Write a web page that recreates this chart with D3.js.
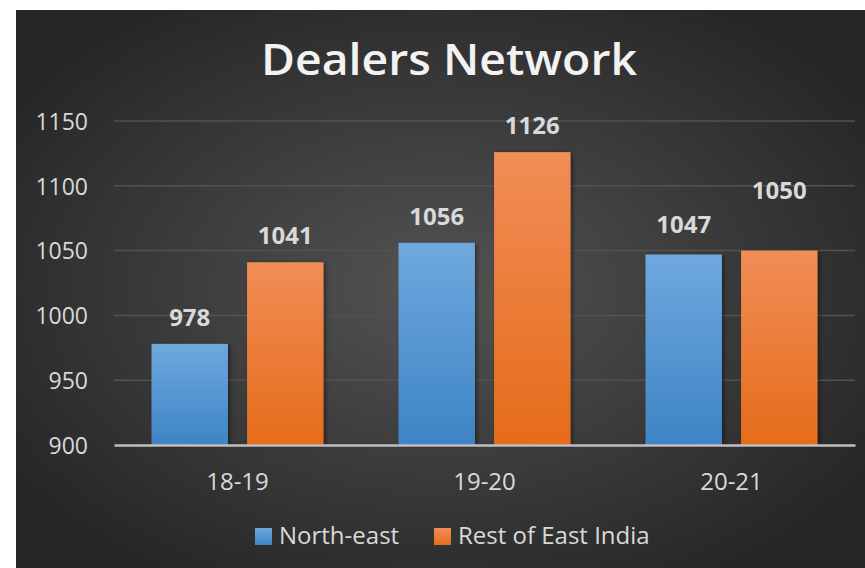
<!DOCTYPE html>
<html>
<head>
<meta charset="utf-8">
<script src="https://cdn.jsdelivr.net/npm/d3@7"></script>
<style>
  html, body { margin: 0; padding: 0; background: #ffffff; }
  svg { display: block; }
</style>
</head>
<body>
<div id="chart"></div>
<script>
// chart values
const categories = ['18-19', '19-20', '20-21'];
const seriesNames = ['North-east', 'Rest of East India'];
const northEast = [978, 1056, 1047];
const restOfEast = [1041, 1126, 1050];
const yTicks = [900, 950, 1000, 1050, 1100, 1150];

const W = 865, H = 568;
const frame = { x: 16, y: 10, w: 849, h: 558 };
const plot = { left: 114, right: 855, top: 121, bottom: 445 };

// the 20-21 "Rest of East India" label sits higher in the original
const labelLift = { '20-21|Rest of East India': 34, '20-21|North-east': 3 };

const svg = d3.select('#chart').append('svg')
  .attr('width', W)
  .attr('height', H);

const defs = svg.append('defs');

const bg = defs.append('radialGradient')
  .attr('id', 'bg')
  .attr('cx', '50%').attr('cy', '50%').attr('r', '62%');
bg.append('stop').attr('offset', '0%').attr('stop-color', '#535353');
bg.append('stop').attr('offset', '100%').attr('stop-color', '#252525');

function barGradient(id, top, bottom) {
  const g = defs.append('linearGradient')
    .attr('id', id)
    .attr('x1', 0).attr('y1', 0).attr('x2', 0).attr('y2', 1);
  g.append('stop').attr('offset', '0%').attr('stop-color', top);
  g.append('stop').attr('offset', '100%').attr('stop-color', bottom);
}
barGradient('blue', '#6fa8de', '#3e84c5');
barGradient('orange', '#f18d56', '#e56c1a');

const shadow = defs.append('filter')
  .attr('id', 'shadow')
  .attr('x', '-20%').attr('y', '-10%')
  .attr('width', '140%').attr('height', '120%');
shadow.append('feDropShadow')
  .attr('dx', 2).attr('dy', 1)
  .attr('stdDeviation', 2)
  .attr('flood-color', '#000')
  .attr('flood-opacity', 0.45);

svg.append('rect')
  .attr('x', frame.x).attr('y', frame.y)
  .attr('width', frame.w).attr('height', frame.h)
  .attr('fill', 'url(#bg)');

const font = '"Open Sans", "DejaVu Sans", sans-serif';

// title
svg.append('text')
  .attr('x', 449)
  .attr('y', 75)
  .attr('text-anchor', 'middle')
  .attr('font-family', font)
  .attr('font-weight', 600)
  .attr('font-size', 43)
  .attr('fill', '#f2f2f2')
  .attr('textLength', 376)
  .attr('lengthAdjust', 'spacingAndGlyphs')
  .text('Dealers Network');

const y = d3.scaleLinear()
  .domain([900, 1150])
  .range([plot.bottom, plot.top]);

const x0 = d3.scaleBand()
  .domain(categories)
  .range([plot.left, plot.right])
  .paddingInner(0)
  .paddingOuter(0);

const x1 = d3.scaleBand()
  .domain(seriesNames)
  .range([37.5, x0.bandwidth() - 37.5])
  .paddingInner(0.2);

// gridlines
svg.append('g')
  .selectAll('line')
  .data(yTicks.filter(d => d !== 900))
  .join('line')
  .attr('x1', plot.left).attr('x2', plot.right)
  .attr('y1', d => y(d)).attr('y2', d => y(d))
  .attr('stroke', '#525252')
  .attr('stroke-width', 1.5);

// y axis labels
const yAxis = svg.append('g')
  .attr('transform', `translate(${plot.left - 26},0)`)
  .call(d3.axisLeft(y).tickValues(yTicks).tickFormat(d3.format('d')).tickSize(0).tickPadding(0));
yAxis.select('.domain').remove();
yAxis.selectAll('text')
  .attr('font-family', font)
  .attr('font-size', 23)
  .attr('fill', '#d9d9d9')
  .attr('dy', '0.36em');

const rows = categories.map((c, i) => ({
  cat: c,
  vals: [
    { cat: c, key: seriesNames[0], v: northEast[i], fill: 'url(#blue)' },
    { cat: c, key: seriesNames[1], v: restOfEast[i], fill: 'url(#orange)' }
  ]
}));

const groups = svg.append('g')
  .selectAll('g')
  .data(rows)
  .join('g')
  .attr('transform', d => `translate(${x0(d.cat)},0)`);

groups.selectAll('rect')
  .data(d => d.vals)
  .join('rect')
  .attr('x', d => x1(d.key))
  .attr('y', d => y(d.v))
  .attr('width', x1.bandwidth())
  .attr('height', d => y(900) - y(d.v))
  .attr('fill', d => d.fill)
  .attr('filter', 'url(#shadow)');

groups.selectAll('text.val')
  .data(d => d.vals)
  .join('text')
  .attr('class', 'val')
  .attr('x', d => x1(d.key) + x1.bandwidth() / 2)
  .attr('y', d => y(d.v) - 18 - (labelLift[d.cat + '|' + d.key] || 0))
  .attr('text-anchor', 'middle')
  .attr('font-family', font)
  .attr('font-weight', 700)
  .attr('font-size', 24)
  .attr('fill', '#d9d9d9')
  .text(d => d.v);

// baseline / x axis
const xAxis = svg.append('g')
  .attr('transform', `translate(0,${plot.bottom})`)
  .call(d3.axisBottom(x0).tickSize(0).tickPadding(0));
xAxis.select('.domain')
  .attr('stroke', '#bfbfbf')
  .attr('stroke-width', 2.5);
xAxis.selectAll('text')
  .attr('font-family', font)
  .attr('font-size', 24)
  .attr('fill', '#d9d9d9')
  .attr('dy', 0)
  .attr('y', 45);

// legend
const legendItems = [
  { name: seriesNames[0], fill: 'url(#blue)', x: 255 },
  { name: seriesNames[1], fill: 'url(#orange)', x: 434 }
];
const legend = svg.append('g')
  .selectAll('g')
  .data(legendItems)
  .join('g')
  .attr('transform', d => `translate(${d.x},528)`);
legend.append('rect')
  .attr('width', 17).attr('height', 17)
  .attr('fill', d => d.fill);
legend.append('text')
  .attr('x', 24)
  .attr('y', 16)
  .attr('font-family', font)
  .attr('font-size', 24)
  .attr('fill', '#d9d9d9')
  .text(d => d.name);
</script>
</body>
</html>
